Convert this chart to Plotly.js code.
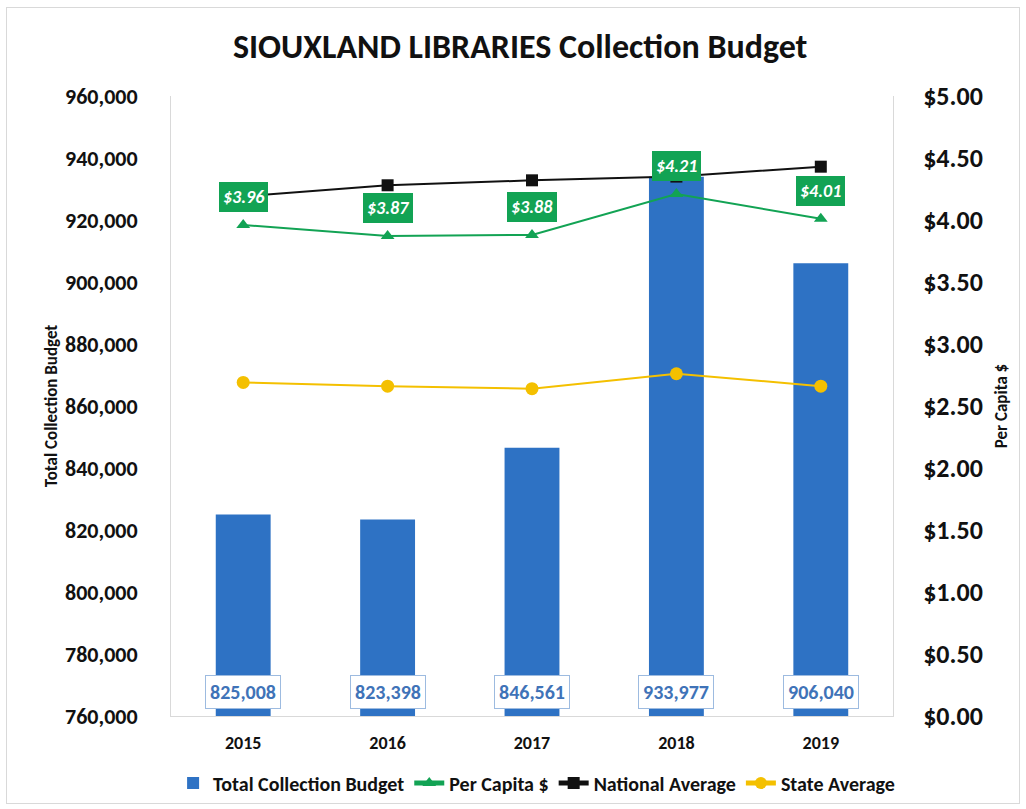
<!DOCTYPE html>
<html>
<head>
<meta charset="utf-8">
<script src="https://cdn.plot.ly/plotly-3.0.1.min.js"></script>
<style>
  html, body { margin: 0; padding: 0; background: #ffffff; }
  #chart { width: 1026px; height: 809px; position: relative; }
  #frame { position: absolute; left: 6px; top: 7px; width: 1012px; height: 795px; border: 1px solid #d9d9d9; pointer-events: none; }
</style>
</head>
<body>
<div id="chart"></div>
<div id="frame"></div>
<script>
const years = ['2015', '2016', '2017', '2018', '2019'];
const totalBudget = [825008, 823398, 846561, 933977, 906040];
const perCapita = [3.96, 3.87, 3.88, 4.21, 4.01];
const nationalAvg = [4.19, 4.28, 4.32, 4.35, 4.43];
const stateAvg = [2.69, 2.66, 2.64, 2.76, 2.66];
const leftTicks = [760000, 780000, 800000, 820000, 840000, 860000, 880000, 900000, 920000, 940000, 960000];
const rightTicks = [0, 0.5, 1, 1.5, 2, 2.5, 3, 3.5, 4, 4.5, 5];

const FONT = 'Carlito, Calibri, Lato, sans-serif';
const BLUE = '#2e72c4';
const GREEN = '#12a354';
const GOLD = '#f4c000';

const fmtNum = v => v.toLocaleString('en-US');
const fmtMoney = v => '$' + v.toFixed(2);

const traces = [
  {
    type: 'bar', name: 'Total Collection Budget', x: years, y: totalBudget,
    marker: { color: BLUE }, yaxis: 'y', hoverinfo: 'x+y'
  },
  {
    type: 'scatter', mode: 'lines+markers', name: 'Per Capita $', x: years, y: perCapita,
    yaxis: 'y2', line: { color: GREEN, width: 2 },
    marker: { symbol: 'triangle-up', size: 12, color: GREEN }
  },
  {
    type: 'scatter', mode: 'lines+markers', name: 'National Average', x: years, y: nationalAvg,
    yaxis: 'y2', line: { color: '#111111', width: 2 },
    marker: { symbol: 'square', size: 12, color: '#111111' }
  },
  {
    type: 'scatter', mode: 'lines+markers', name: 'State Average', x: years, y: stateAvg,
    yaxis: 'y2', line: { color: GOLD, width: 2 },
    marker: { symbol: 'circle', size: 13, color: GOLD }
  }
];

const annotations = [];
years.forEach((yr, i) => {
  annotations.push({
    x: i, xref: 'x', y: 0, yref: 'paper', yanchor: 'middle', yshift: 24,
    text: '<b>' + fmtNum(totalBudget[i]) + '</b>', showarrow: false,
    font: { family: FONT, size: 20, color: '#3f73b8' },
    bgcolor: '#ffffff', bordercolor: '#9dbbe0', borderwidth: 1, borderpad: 4
  });
  annotations.push({
    x: i, xref: 'x', y: perCapita[i], yref: 'y2', yshift: 28,
    text: '<b><i>' + fmtMoney(perCapita[i]) + '</i></b>', showarrow: false,
    font: { family: FONT, size: 18, color: '#ffffff' },
    bgcolor: GREEN, bordercolor: GREEN, borderwidth: 1, borderpad: 3
  });
});

const layout = {
  width: 1026, height: 809,
  margin: { l: 171, r: 133, t: 96, b: 93 },
  paper_bgcolor: '#ffffff', plot_bgcolor: '#ffffff',
  font: { family: FONT, color: '#000000' },
  title: {
    text: '<b>SIOUXLAND LIBRARIES Collection Budget</b>',
    font: { family: FONT, size: 34, color: '#111111' },
    x: 0.507, xanchor: 'center', y: 0.943, yanchor: 'middle'
  },
  bargap: 0.62,
  showlegend: true,
  legend: {
    orientation: 'h', x: 0.523, xanchor: 'center', xref: 'container',
    y: 0.032, yanchor: 'middle', yref: 'container',
    font: { family: FONT, size: 20, color: '#111111', weight: 'bold' },
    itemwidth: 30, tracegroupgap: 0, itemsizing: 'constant'
  },
  xaxis: {
    type: 'category', range: [-0.5, 4.5], showgrid: false, zeroline: false,
    showline: true, linecolor: '#d9d9d9', linewidth: 1,
    tickfont: { family: FONT, size: 18, color: '#111111', weight: 'bold' },
    ticks: '', ticklabelstandoff: 10
  },
  yaxis: {
    range: [760000, 960000], tickvals: leftTicks, ticktext: leftTicks.map(fmtNum),
    showgrid: false, zeroline: false, showline: true, linecolor: '#d9d9d9', linewidth: 1,
    tickfont: { family: FONT, size: 22, color: '#111111', weight: 'bold' },
    ticks: '', ticklabelstandoff: 28,
    title: { text: '<b>Total Collection Budget</b>', font: { family: FONT, size: 17, color: '#111111' }, standoff: 3 }
  },
  yaxis2: {
    overlaying: 'y', side: 'right',
    range: [0, 5], tickvals: rightTicks, ticktext: rightTicks.map(fmtMoney),
    showgrid: false, zeroline: false, showline: true, linecolor: '#d9d9d9', linewidth: 1,
    tickfont: { family: FONT, size: 26, color: '#111111', weight: 'bold' },
    ticks: '', ticklabelstandoff: 24,
    title: { text: '<b>Per Capita $</b>', font: { family: FONT, size: 17, color: '#111111' }, standoff: 13 }
  },
  annotations: annotations
};

Plotly.newPlot('chart', traces, layout, { displayModeBar: false, staticPlot: true });
</script>
</body>
</html>
